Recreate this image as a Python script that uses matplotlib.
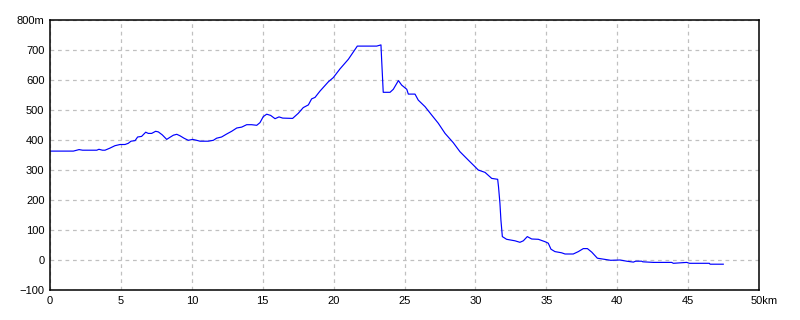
import matplotlib
matplotlib.use("Agg")
import matplotlib.pyplot as plt
from matplotlib.transforms import ScaledTranslation

# =========================
# Data (distance km, altitude m) read from the profile
# =========================
dist_km = [
    0.0, 1.65, 2.05, 2.3, 3.3, 3.45, 3.7, 3.88, 4.23, 4.58, 4.94, 5.29, 5.52,
    5.71, 6.0, 6.18, 6.46, 6.75, 6.93, 7.17, 7.45, 7.64, 7.92, 8.23, 8.46,
    8.7, 8.94, 9.17, 9.45, 9.75, 10.06, 10.34, 10.58, 11.16, 11.52, 11.75,
    12.1, 12.46, 12.81, 13.17, 13.52, 13.87, 14.22, 14.58, 14.81, 15.04,
    15.28, 15.56, 15.87, 16.15, 16.41, 17.11, 17.51, 17.86, 18.22, 18.45,
    18.69, 19.04, 19.63, 19.98, 20.45, 21.04, 21.63, 21.67, 23.04, 23.34,
    23.38, 23.5, 23.98, 24.21, 24.57, 24.8, 25.16, 25.27, 25.74, 25.97,
    26.45, 26.92, 27.38, 27.86, 28.44, 28.91, 29.5, 29.97, 30.2, 30.68,
    31.15, 31.57, 31.63, 31.73, 31.8, 31.9, 32.2, 32.79, 33.14, 33.38,
    33.66, 33.97, 34.44, 34.91, 35.14, 35.33, 35.61, 36.08, 36.32, 36.9,
    37.26, 37.61, 37.9, 38.21, 38.6, 39.14, 39.54, 40.2, 40.67, 41.14,
    41.3, 41.73, 41.8, 42.55, 43.84, 43.96, 44.9, 45.1, 46.5, 46.55, 47.48,
]
alt_m = [
    363, 363, 368, 366, 366, 369, 366, 366, 373, 381, 385, 385, 389,
    396, 398, 410, 412, 426, 422, 422, 429, 427, 417, 402, 409,
    416, 419, 414, 406, 399, 402, 399, 396, 396, 399, 406,
    410, 420, 429, 440, 443, 451, 451, 449, 458, 478,
    486, 482, 471, 477, 473, 472, 489, 508, 517, 537,
    542, 563, 594, 608, 637, 669, 710, 713, 713, 717,
    676, 559, 559, 569, 598, 583, 569, 553, 553, 533,
    511, 483, 456, 422, 391, 361, 333, 311, 300, 292,
    272, 269, 244, 189, 133, 78, 69, 64, 59, 64,
    78, 70, 69, 61, 56, 36, 28, 24, 20, 20,
    28, 38, 38, 26, 6, 2, -1, 0, -4, -7,
    -4, -4, -6, -8, -8, -11, -8, -11, -11, -14, -14,
]

x_ticks = [0, 5, 10, 15, 20, 25, 30, 35, 40, 45, 50]
x_labels = ["0", "5", "10", "15", "20", "25", "30", "35", "40", "45", "50km"]
y_ticks = [-100, 0, 100, 200, 300, 400, 500, 600, 700, 800]
y_labels = ["\u2212100", "0", "100", "200", "300", "400", "500", "600", "700", "800m"]

# =========================
# Plot
# =========================
plt.rcParams["font.family"] = ["Liberation Sans", "DejaVu Sans"]

fig = plt.figure(figsize=(8, 3.2), dpi=100)
ax = fig.add_axes([50 / 800, 30 / 320, 709 / 800, 270 / 320])

ax.plot(dist_km, alt_m, color="#0000ff", linewidth=0.85)

ax.set_xlim(0, 50)
ax.set_ylim(-100, 800)
ax.set_xticks(x_ticks)
ax.set_xticklabels(x_labels)
ax.set_yticks(y_ticks)
ax.set_yticklabels(y_labels)
ax.tick_params(length=0, labelsize=8, pad=4, colors="black")

ax.grid(True, color="#c0c0c0", linestyle=(0, (3, 3)), linewidth=0.9)
for sp in ax.spines.values():
    sp.set_color("black")
    sp.set_linewidth(1.1)

# units hang off the last tick labels
last_x = ax.get_xticklabels()[-1]
last_x.set_ha("left")
last_x.set_transform(last_x.get_transform() + ScaledTranslation(-6 / 72, 0, fig.dpi_scale_trans))

fig.savefig("out.png", dpi=100, facecolor="white")
plt.close()
